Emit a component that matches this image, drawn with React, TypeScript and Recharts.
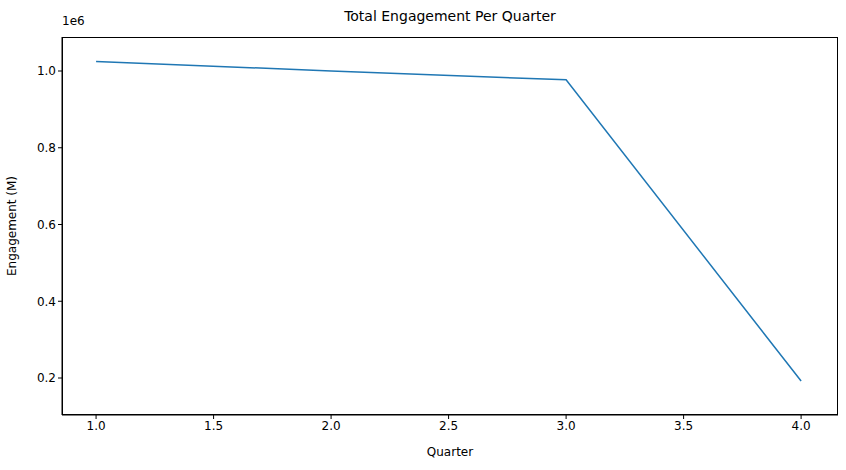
import { LineChart, Line, XAxis, YAxis, Label } from "recharts";

const quarters = [1, 2, 3, 4];
const engagement = [1025000, 1000000, 977000, 192000];
const xTicks = [1.0, 1.5, 2.0, 2.5, 3.0, 3.5, 4.0];
const yTicks = [200000, 400000, 600000, 800000, 1000000];

const data = quarters.map((q, i) => ({ quarter: q, value: engagement[i] }));
const font = "DejaVu Sans, sans-serif";
const tickStyle = { fontSize: 12, fill: "#000", fontFamily: font };

export default function App() {
  return (
    <div style={{ position: "absolute", left: 0, top: 0, width: 846, height: 470, background: "#fff", fontFamily: font }}>
      <div style={{ position: "absolute", top: 8, left: 0, width: 846, paddingLeft: 62, paddingRight: 8, boxSizing: "border-box", textAlign: "center", fontSize: 14 }}>
        Total Engagement Per Quarter
      </div>
      <div style={{ position: "absolute", top: 14, left: 62, fontSize: 12 }}>1e6</div>
      <LineChart width={846} height={470} data={data} margin={{ top: 37, right: 8, bottom: 0, left: 0 }}>
        <XAxis
          dataKey="quarter"
          type="number"
          domain={[0.855, 4.157]}
          ticks={xTicks}
          tickFormatter={(v) => v.toFixed(1)}
          tick={tickStyle}
          tickLine={{ stroke: "#000" }}
          axisLine={{ stroke: "#000" }}
          tickSize={4}
          height={55}
          allowDataOverflow
        >
          <Label value="Quarter" position="insideBottom" offset={14} style={{ fontSize: 12, fill: "#000", fontFamily: font }} />
        </XAxis>
        <YAxis
          type="number"
          domain={[103600, 1088600]}
          ticks={yTicks}
          tickFormatter={(v) => (v / 1e6).toFixed(1)}
          tick={tickStyle}
          tickLine={{ stroke: "#000" }}
          axisLine={{ stroke: "#000" }}
          tickSize={4}
          width={62}
          allowDataOverflow
        >
          <Label value="Engagement (M)" angle={-90} position="insideLeft" offset={12} style={{ fontSize: 12, fill: "#000", fontFamily: font, textAnchor: "middle" }} />
        </YAxis>
        <Line dataKey="value" stroke="#1f77b4" strokeWidth={1.5} dot={false} isAnimationActive={false} />
      </LineChart>
      <div style={{ position: "absolute", left: 62, top: 37, width: 776, height: 378, border: "1px solid #000", boxSizing: "border-box", pointerEvents: "none" }} />
    </div>
  );
}
